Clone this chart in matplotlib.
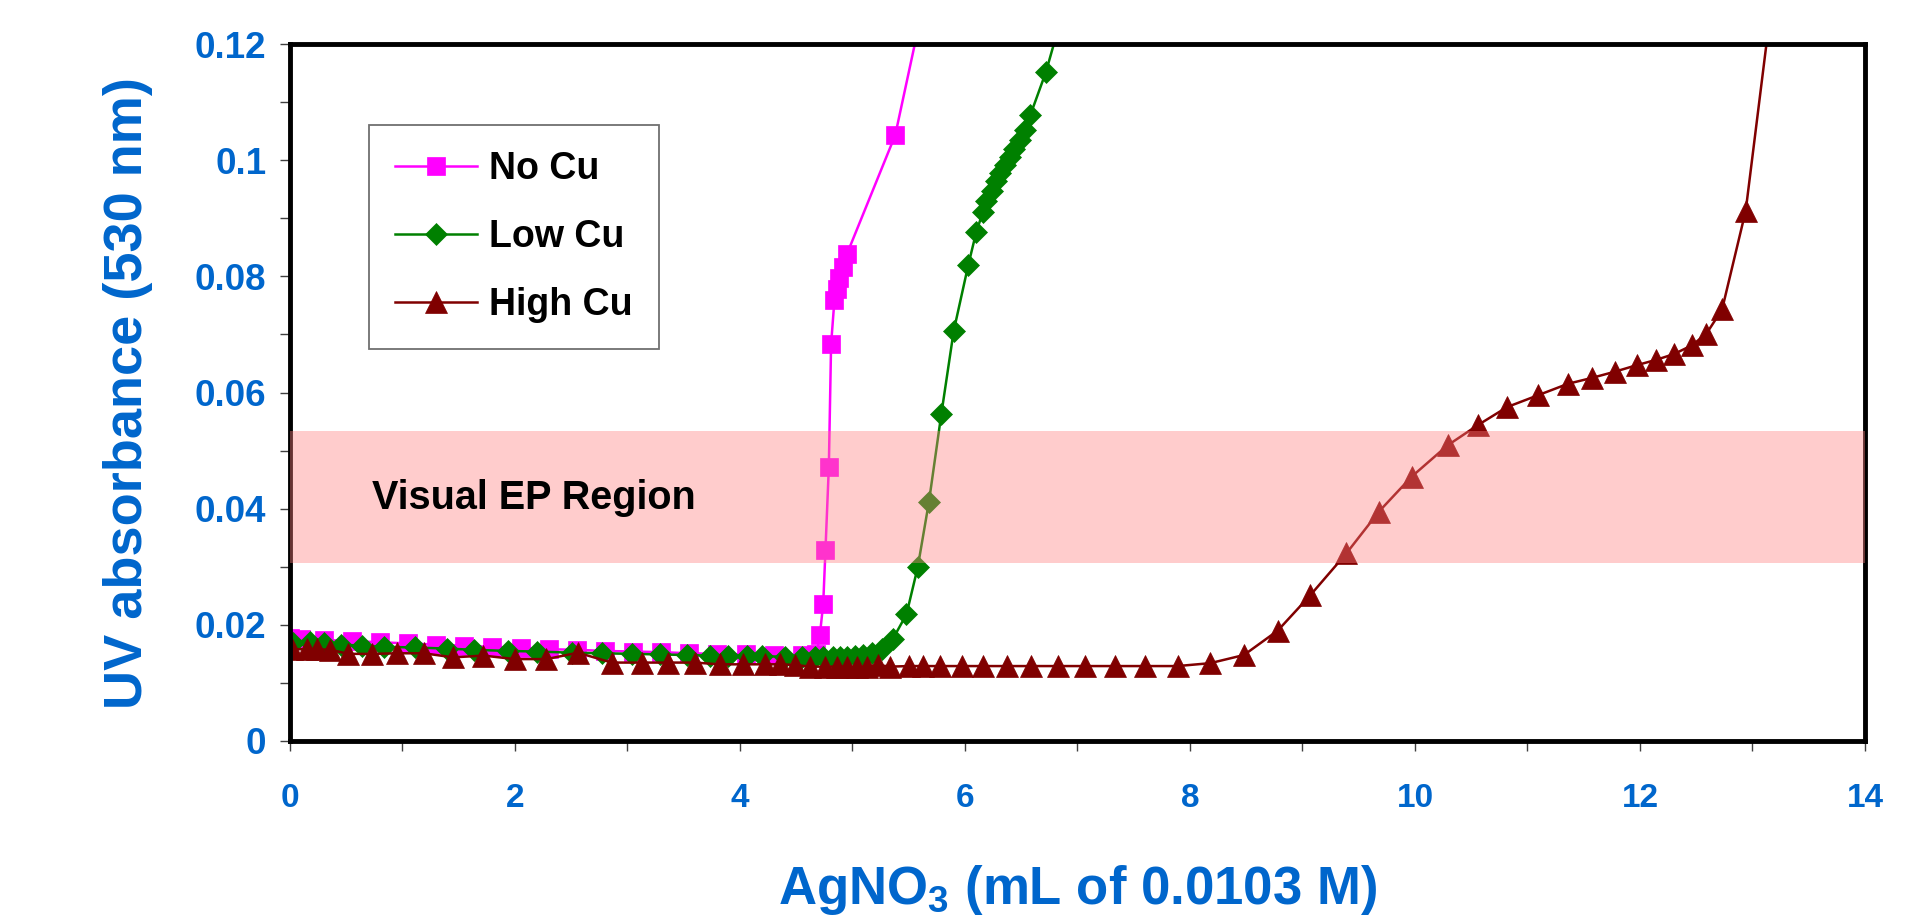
import numpy as np
import matplotlib.pyplot as plt
from matplotlib.ticker import MultipleLocator

plt.rcParams['font.family'] = ['Liberation Sans', 'DejaVu Sans']
plt.rcParams['font.weight'] = 'bold'
plt.rcParams['mathtext.fontset'] = 'custom'
plt.rcParams['mathtext.rm'] = 'Liberation Sans:bold'
plt.rcParams['mathtext.it'] = 'Liberation Sans:bold'
plt.rcParams['mathtext.bf'] = 'Liberation Sans:bold'

# data
no_cu_x = [0.0, 0.1, 0.3, 0.55, 0.8, 1.05, 1.3, 1.55, 1.8, 2.05,
           2.3, 2.55, 2.8, 3.05, 3.3, 3.55, 3.8, 4.05, 4.3, 4.55,
           4.68, 4.71, 4.74, 4.76, 4.79, 4.81, 4.84, 4.86, 4.88, 4.92,
           4.95, 5.38, 5.60]
no_cu_y = [0.0178, 0.0176, 0.0174, 0.0172, 0.0170, 0.0168, 0.0166, 0.0164, 0.0162, 0.0160,
           0.0158, 0.0157, 0.0155, 0.0154, 0.0153, 0.0151, 0.0150, 0.0149, 0.0148, 0.0148,
           0.0150, 0.0182, 0.0236, 0.0329, 0.0472, 0.0683, 0.0760, 0.0778, 0.0797, 0.0816,
           0.0838, 0.1043, 0.1241]

low_cu_x = [0.03, 0.18, 0.30, 0.45, 0.64, 0.84, 1.11, 1.40, 1.64, 1.94,
            2.20, 2.51, 2.77, 3.04, 3.29, 3.53, 3.73, 3.89, 4.06, 4.20,
            4.40, 4.55, 4.67, 4.74, 4.83, 4.89, 4.95, 5.02, 5.09, 5.17,
            5.26, 5.36, 5.48, 5.58, 5.68, 5.79, 5.90, 6.03, 6.10, 6.16,
            6.19, 6.24, 6.28, 6.31, 6.36, 6.40, 6.44, 6.49, 6.53, 6.58,
            6.72, 6.85]
low_cu_y = [0.0168, 0.0170, 0.0168, 0.0166, 0.0164, 0.0162, 0.0161, 0.0159, 0.0157, 0.0155,
            0.0154, 0.0152, 0.0151, 0.0150, 0.0149, 0.0148, 0.0147, 0.0147, 0.0146, 0.0146,
            0.0145, 0.0145, 0.0145, 0.0145, 0.0145, 0.0145, 0.0145, 0.0146, 0.0148, 0.0152,
            0.0159, 0.0176, 0.0218, 0.0299, 0.0412, 0.0563, 0.0706, 0.0820, 0.0876, 0.0911,
            0.0929, 0.0947, 0.0964, 0.0978, 0.0992, 0.1006, 0.1020, 0.1035, 0.1052, 0.1077,
            0.1152, 0.1241]

high_cu_x = [0.015, 0.15, 0.24, 0.36, 0.52, 0.73, 0.95, 1.19, 1.45, 1.72,
             2.0, 2.28, 2.56, 2.86, 3.13, 3.36, 3.60, 3.82, 4.03, 4.22,
             4.36, 4.49, 4.62, 4.76, 4.86, 4.95, 5.04, 5.13, 5.23, 5.33,
             5.50, 5.63, 5.78, 5.97, 6.16, 6.37, 6.59, 6.83, 7.07, 7.33,
             7.60, 7.89, 8.18, 8.48, 8.78, 9.07, 9.39, 9.68, 9.97, 10.29,
             10.56, 10.82, 11.09, 11.36, 11.57, 11.78, 11.97, 12.14, 12.30, 12.46,
             12.59, 12.73, 12.94, 13.15]
high_cu_y = [0.0158, 0.0158, 0.0158, 0.0157, 0.0150, 0.0150, 0.0151, 0.0151, 0.0144, 0.0147,
             0.0141, 0.0141, 0.0152, 0.0135, 0.0135, 0.0135, 0.0135, 0.0132, 0.0132, 0.0132,
             0.0132, 0.0131, 0.0128, 0.0128, 0.0128, 0.0128, 0.0128, 0.0128, 0.0131, 0.0128,
             0.0129, 0.0129, 0.0129, 0.0129, 0.0129, 0.0129, 0.0129, 0.0129, 0.0129, 0.0129,
             0.0129, 0.0129, 0.0134, 0.0148, 0.0190, 0.0251, 0.0323, 0.0395, 0.0455, 0.0509,
             0.0544, 0.0575, 0.0595, 0.0615, 0.0625, 0.0636, 0.0647, 0.0656, 0.0666, 0.0681,
             0.0701, 0.0743, 0.0913, 0.1240]

ep_region = (0.0307, 0.0533)
x_ticks = [0, 2, 4, 6, 8, 10, 12, 14]
y_ticks = [0, 0.02, 0.04, 0.06, 0.08, 0.1, 0.12]
y_tick_labels = ['0', '0.02', '0.04', '0.06', '0.08', '0.1', '0.12']

blue = '#0066CC'

fig = plt.figure(figsize=(19.28, 9.19), dpi=100)
ax = fig.add_axes([0.1504, 0.1937, 0.8169, 0.7584])

ax.plot(no_cu_x, no_cu_y, color='#FF00FF', lw=1.8, marker='s', ms=12.5,
        mec='#FF00FF', mew=0.5, label='No Cu', zorder=2)
ax.plot(low_cu_x, low_cu_y, color='#008000', lw=1.8, marker='D', ms=11.5,
        mec='#008000', mew=0.5, label='Low Cu', zorder=2)
ax.plot(high_cu_x, high_cu_y, color='#800000', lw=1.8, marker='^', ms=16,
        mec='#800000', mew=0.5, label='High Cu', zorder=2)

ax.axhspan(ep_region[0], ep_region[1], color=(1.0, 0.5, 0.5), alpha=0.4, lw=0, zorder=3)
ax.text(0.73, 0.0418, 'Visual EP Region', fontsize=28.5, fontweight='bold',
        color='black', ha='left', va='center', zorder=4)

ax.set_xlim(0, 14)
ax.set_ylim(0, 0.12)
ax.set_xticks(x_ticks)
ax.set_yticks(y_ticks, y_tick_labels)
ax.xaxis.set_minor_locator(MultipleLocator(1))
ax.yaxis.set_minor_locator(MultipleLocator(0.01))

ax.tick_params(axis='both', which='both', direction='out', length=7, width=1,
               color='#404040', labelcolor=blue)
ax.tick_params(axis='x', which='major', pad=23, labelsize=24)
ax.tick_params(axis='y', which='major', pad=10, labelsize=26.5)
for lab in ax.get_xticklabels() + ax.get_yticklabels():
    lab.set_fontweight('bold')

for sp in ax.spines.values():
    sp.set_linewidth(3.5)
    sp.set_color('black')

ax.set_xlabel(r'AgNO$_3$ (mL of 0.0103 M)', fontsize=38, fontweight='bold', color=blue)
ax.xaxis.set_label_coords(0.5, -0.175)
ax.set_ylabel('UV absorbance (530 nm)', fontsize=39, fontweight='bold', color=blue)
ax.yaxis.set_label_coords(-0.087, 0.5)

leg = ax.legend(loc='upper left', bbox_to_anchor=(0.05, 0.884), borderaxespad=0,
                fontsize=27, frameon=True, fancybox=False, framealpha=1,
                edgecolor='#707070', handlelength=2.2, handletextpad=0.3,
                labelspacing=0.85, borderpad=0.7)
leg.get_frame().set_linewidth(1.3)
for t in leg.get_texts():
    t.set_fontweight('bold')
leg.set_zorder(6)

fig.savefig('out.png', dpi=100, facecolor='white')
